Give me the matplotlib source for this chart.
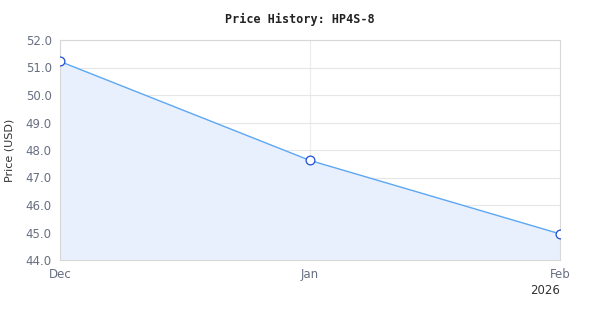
import matplotlib
matplotlib.use("Agg")
import matplotlib.pyplot as plt
import matplotlib.dates as mdates
import numpy as np
import datetime as dt

dates = [dt.date(2025, 12, 1), dt.date(2026, 1, 1), dt.date(2026, 2, 1)]
prices = [51.22, 47.62, 44.95]
tick_labels = ["Dec", "Jan", "Feb"]
y_ticks = [44.0, 45.0, 46.0, 47.0, 48.0, 49.0, 50.0, 51.0, 52.0]
title = "Price History: HP4S-8"

fig = plt.figure(figsize=(6, 3.2), dpi=100)
ax = fig.add_axes([0.1, 0.1875, 0.8333, 0.6875])

x = mdates.date2num(dates)
ax.fill_between(x, prices, 44.0, color="#e8f0fd", zorder=1)
ax.plot(x, prices, color="#5ea8f2", lw=1.0, zorder=3)
ax.plot(x, prices, ls="none", marker="o", ms=6.3, mfc="white", mec="#1d4ed8", mew=0.9, zorder=4)

ax.set_xlim(x[0], x[-1])
ax.set_ylim(44, 52)
ax.set_yticks(y_ticks)
ax.set_yticklabels([f"{v:.1f}" for v in y_ticks])
ax.set_xticks(x)
ax.set_xticklabels(tick_labels)
ax.tick_params(axis="both", length=0, labelsize=8.5, colors="#666e80")
ax.tick_params(axis="x", pad=6)
ax.tick_params(axis="y", pad=6)

ax.grid(axis="y", color="#e6e6e6", lw=0.8, zorder=0)
ax.set_axisbelow(True)
ax.axvline(x[1], color="#ececec", lw=0.8, zorder=0)

for s in ax.spines.values():
    s.set_color("#d8d8d8")
    s.set_linewidth(0.8)

ax.set_ylabel("Price (USD)", fontsize=8, color="#333333", labelpad=8)
fig.text(0.5, 0.94, title, ha="center", va="center", fontsize=8.5,
         fontweight="bold", family="DejaVu Sans Mono", color="#222222")
fig.text(560 / 600, 1 - 290 / 320, "2026", ha="right", va="center",
         fontsize=8.5, color="#333333")

fig.savefig("out.png", dpi=100)
